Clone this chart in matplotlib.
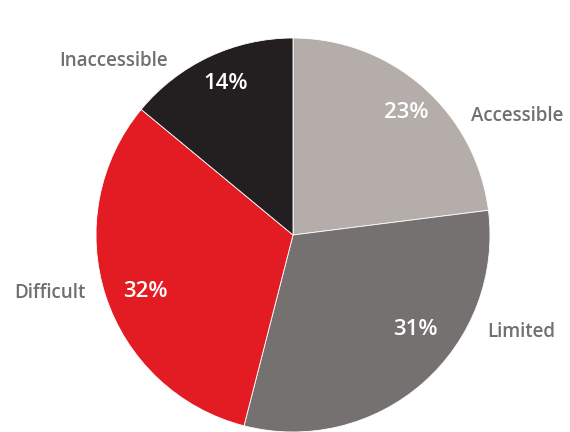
import numpy as np
import matplotlib.pyplot as plt

# --- DATA ---
categories = ['Accessible', 'Limited', 'Difficult', 'Inaccessible']
shares = [23, 31, 32, 14]
colors = ['#b4adaa', '#757170', '#e31b23', '#231f20']

# label placement as (radius, angle in degrees) relative to pie centre
pct_pos = [(0.845, 47.2), (0.785, -37.9), (0.80, 201.0), (0.84, 113.9)]
name_pos = [(1.29, 28.0), (1.26, -23.0), (1.27, 193.4), (1.27, 135.8)]

plt.rcParams['font.family'] = ['Open Sans', 'DejaVu Sans']

fig = plt.figure(figsize=(5.7, 4.32), dpi=100)
ax = fig.add_axes([0, 0, 1, 1])

ax.pie(shares, colors=colors, startangle=90, counterclock=False,
       wedgeprops=dict(edgecolor='white', linewidth=0.6))

for (r, a), v in zip(pct_pos, shares):
    t = np.deg2rad(a)
    ax.text(r * np.cos(t), r * np.sin(t), f'{v}%', ha='center', va='center',
            color='white', fontsize=16, fontweight='semibold')

for (r, a), name in zip(name_pos, categories):
    t = np.deg2rad(a)
    ax.text(r * np.cos(t), r * np.sin(t), name, ha='center', va='center',
            color='#707072', fontsize=13.5, fontweight='semibold')

# 1 data unit = 197 px, centre at (293, 235) from top-left
ax.set_xlim(-293 / 197, (570 - 293) / 197)
ax.set_ylim(-(432 - 235) / 197, 235 / 197)
ax.set_aspect('equal')
ax.axis('off')

fig.savefig('out.png', dpi=100)
